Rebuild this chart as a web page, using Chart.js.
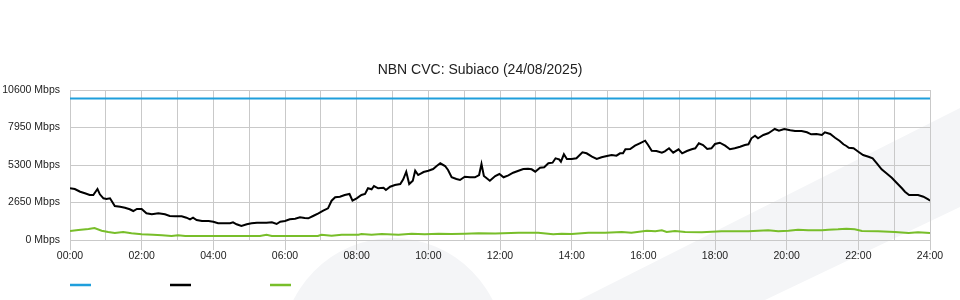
<!DOCTYPE html>
<html>
<head>
<meta charset="utf-8">
<script src="https://cdn.jsdelivr.net/npm/chart.js@4"></script>
<style>
  html, body { margin: 0; padding: 0; background: #ffffff; }
  #wrap { width: 960px; height: 300px; }
</style>
</head>
<body>
<div id="wrap"><canvas id="c" width="960" height="300"></canvas></div>
<script>
// ---- data (minutes after midnight, Mbps) ----
const chartTitle = 'NBN CVC: Subiaco (24/08/2025)';
const yTickValues = [0, 2650, 5300, 7950, 10600];
const xLabelEvery = 120; // minutes between labelled ticks

const capacityTimes = [0, 1440];
const capacityMbps = [10000, 10000];

const blackTimes = [0,8,17,25,33,39,46,50,56,61,67,75,84,92,100,106,112,120,128,137,148,159,167,176,187,195,201,206,212,221,232,240,248,260,268,273,279,287,296,304,313,321,329,338,346,352,360,368,377,385,393,399,407,416,424,432,438,444,452,460,468,473,480,488,494,499,505,509,516,525,529,536,544,553,558,563,568,574,578,583,592,600,608,614,620,628,633,639,647,653,661,670,678,685,689,693,703,712,719,726,734,742,751,759,767,773,779,787,794,801,808,813,819,822,827,832,840,848,858,865,874,882,890,899,907,915,921,926,930,938,946,954,963,968,974,982,991,996,1003,1010,1019,1025,1033,1041,1047,1053,1060,1067,1074,1080,1088,1097,1105,1113,1122,1130,1136,1141,1147,1152,1161,1169,1175,1180,1187,1196,1206,1214,1225,1234,1241,1250,1259,1264,1273,1281,1289,1295,1300,1304,1312,1320,1328,1337,1344,1351,1359,1367,1376,1384,1393,1398,1405,1412,1420,1429,1437,1440];
const blackMbps = [3654,3604,3413,3300,3180,3180,3604,3230,2947,2897,2947,2403,2353,2283,2170,2049,2191,2191,1887,1816,1887,1816,1696,1675,1675,1576,1463,1576,1413,1343,1343,1293,1180,1180,1180,1251,1110,989,1110,1180,1223,1223,1223,1251,1131,1293,1343,1463,1505,1604,1555,1534,1696,1887,2071,2240,2777,3018,3060,3180,3251,2777,2947,3180,3251,3654,3583,3816,3654,3696,3533,3767,3887,3957,4290,4827,3957,4191,4897,4593,4805,4897,5017,5229,5420,5229,4947,4431,4311,4240,4473,4431,4431,4593,5371,4523,4191,4523,4664,4431,4572,4756,4897,5017,5039,4996,4827,5109,5138,5420,5463,5774,5703,5533,6056,5724,5724,5774,6198,6127,5887,5724,5844,5936,6007,5957,6127,6127,6410,6431,6664,6834,7017,6713,6311,6290,6169,6268,6480,6169,6410,6127,6290,6410,6480,6834,6713,6431,6480,6784,6876,6664,6410,6480,6593,6713,6763,7187,7371,7187,7420,7540,7703,7844,7724,7844,7752,7703,7703,7611,7470,7491,7420,7611,7491,7229,6996,6763,6643,6523,6480,6240,6007,5887,5774,5420,4996,4714,4403,4049,3654,3413,3180,3180,3180,3060,2876,2777];

const greenTimes = [0,14,31,41,53,64,75,89,103,120,139,154,170,181,193,318,329,338,415,421,438,455,483,488,505,522,550,572,594,617,639,661,684,712,751,784,809,823,840,868,896,924,940,966,980,991,999,1013,1030,1058,1091,1136,1169,1186,1203,1219,1236,1259,1270,1286,1300,1314,1326,1353,1381,1404,1420,1440];
const greenMbps = [636,707,777,848,657,565,495,565,473,403,375,332,283,332,283,283,375,283,283,375,304,375,375,424,375,424,375,445,403,445,424,445,473,460,516,516,403,445,424,516,516,565,516,657,615,685,565,636,565,544,615,615,685,615,657,728,685,685,728,756,799,756,636,615,565,495,544,495];

const colors = { capacity: '#1f9fdc', black: '#000000', green: '#78be2a', grid: '#c9c9c9', text: '#222222', watermark: '#f4f5f7' };

function toXY(times, vals) { return times.map((t, i) => ({ x: t, y: vals[i] })); }
function hhmm(m) { const h = Math.floor(m / 60); return String(h).padStart(2, '0') + ':' + String(m % 60).padStart(2, '0'); }

const watermark = {
  id: 'watermark',
  beforeDraw(chart) {
    const ctx = chart.ctx;
    ctx.save();
    ctx.fillStyle = colors.watermark;
    // diagonal band
    ctx.beginPath();
    ctx.moveTo(579, 300);
    ctx.lineTo(960, 108);
    ctx.lineTo(960, 207);
    ctx.lineTo(765, 300);
    ctx.closePath();
    ctx.fill();
    // rounded hill
    ctx.beginPath();
    ctx.ellipse(393, 352, 112, 114, 0, Math.PI, 2 * Math.PI);
    ctx.closePath();
    ctx.fill();
    ctx.restore();
  }
};

const legendLines = {
  id: 'legendLines',
  afterDraw(chart) {
    const ctx = chart.ctx;
    const left = chart.chartArea.left;
    ctx.save();
    ctx.lineWidth = 2.5;
    chart.data.datasets.forEach((ds, i) => {
      ctx.strokeStyle = ds.borderColor;
      ctx.beginPath();
      ctx.moveTo(left + i * 100, 285);
      ctx.lineTo(left + i * 100 + 21, 285);
      ctx.stroke();
    });
    ctx.restore();
  }
};

Chart.defaults.font.family = 'Arial, "Liberation Sans", sans-serif';
Chart.defaults.color = colors.text;

new Chart(document.getElementById('c'), {
  type: 'line',
  data: {
    datasets: [
      { label: 'Capacity', data: toXY(capacityTimes, capacityMbps), borderColor: colors.capacity, borderWidth: 2 },
      { label: 'Traffic', data: toXY(blackTimes, blackMbps), borderColor: colors.black, borderWidth: 2 },
      { label: 'Traffic 2', data: toXY(greenTimes, greenMbps), borderColor: colors.green, borderWidth: 2 }
    ]
  },
  options: {
    responsive: false,
    animation: false,
    devicePixelRatio: 1,
    elements: { point: { radius: 0 }, line: { tension: 0, fill: false } },
    layout: { padding: { left: 0, right: 0, top: 0, bottom: 30 } },
    plugins: {
      legend: { display: false },
      tooltip: { enabled: false },
      title: {
        display: true,
        text: chartTitle,
        color: colors.text,
        font: { size: 14, weight: 'normal' },
        padding: { top: 61.6, bottom: 11.6 }
      }
    },
    scales: {
      x: {
        type: 'linear',
        min: 0,
        max: 1440,
        afterBuildTicks(scale) {
          const t = [];
          for (let m = 0; m <= 1440; m += 60) t.push({ value: m });
          scale.ticks = t;
        },
        afterFit(scale) { scale.height = 30; },
        ticks: {
          autoSkip: false,
          maxRotation: 0,
          padding: 0,
          font: { size: 10.5 },
          color: colors.text,
          callback: (v) => (v % xLabelEvery === 0 ? hhmm(v) : '')
        },
        grid: {
          color: colors.grid,
          tickLength: 10,
          tickColor: (c) => (c.tick && c.tick.value % xLabelEvery === 0 ? colors.grid : 'rgba(0,0,0,0)')
        },
        border: { color: colors.grid }
      },
      y: {
        min: 0,
        max: 10600,
        afterBuildTicks(scale) { scale.ticks = yTickValues.map(v => ({ value: v })); },
        afterFit(scale) { scale.width = 70; },
        ticks: {
          padding: 10,
          font: { size: 10.5 },
          color: colors.text,
          callback: (v) => v + ' Mbps'
        },
        grid: { color: colors.grid, drawTicks: false },
        border: { color: colors.grid }
      },
      yRightSpace: {
        position: 'right',
        display: true,
        min: 0,
        max: 10600,
        afterFit(scale) { scale.width = 30; },
        ticks: { display: false },
        grid: { display: false, drawTicks: false },
        border: { display: false }
      }
    }
  },
  plugins: [watermark, legendLines]
});
</script>
</body>
</html>
